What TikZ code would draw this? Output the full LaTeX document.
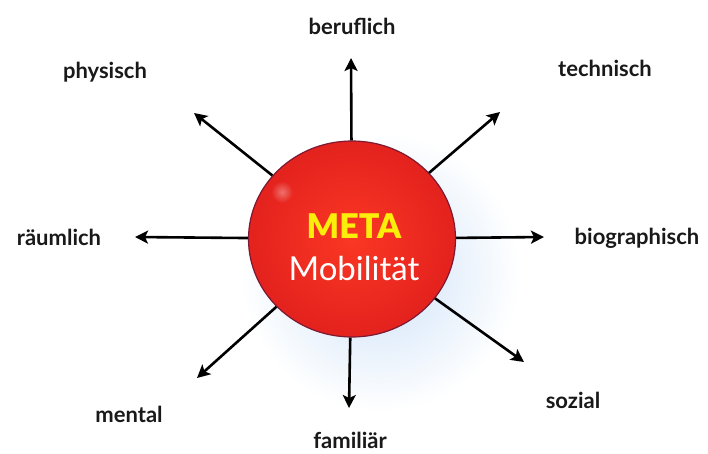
\documentclass[tikz,border=0pt]{standalone}
\usepackage{fontspec}
\setmainfont{Lato}
\usepackage{tikz}
\usetikzlibrary{arrows.meta}
\usetikzlibrary{shapes.geometric}
\definecolor{metared}{RGB}{250,55,35}
\definecolor{metadark}{RGB}{228,34,30}
\definecolor{metarim}{RGB}{125,25,50}
\definecolor{metayellow}{RGB}{250,238,10}
\definecolor{glowblue}{RGB}{205,225,248}
\tikzset{
  dimlabel/.style={font=\bfseries\fontsize{22}{24}\selectfont, text=black!90},
  dimarrow/.style={line width=2.6pt, -{Stealth[length=13pt,width=13pt,inset=3pt]}},
}

\begin{document}
\begin{tikzpicture}[x=1pt,y=-1pt]
\useasboundingbox (0,0) rectangle (708,454);
\fill[white] (0,0) rectangle (708,454);
\shade[inner color=glowblue, outer color=white] (380,272) circle (140);
\node[ellipse, minimum width=207pt, minimum height=196pt, inner sep=0pt,
  draw=metarim, line width=1.2pt, shading=radial, inner color=metared,
  outer color=metadark] (meta) at (352,239) {};
\shade[inner color=white, outer color=metadark, opacity=0.35] (282,192) circle (11);
\node[font=\fontsize{34}{36}\selectfont\fontspec{Lato Black}, text=metayellow] (metaword) at (354,226) {META};
\node[font=\fontsize{33}{36}\selectfont, text=white] (mobil) at (354,268) {Mobilität};
\coordinate (tU) at (351,58);
\coordinate (tUL) at (194,113);
\coordinate (tUR) at (500,112);
\coordinate (tL) at (135,237);
\coordinate (tR) at (544,237);
\coordinate (tDL) at (197,378);
\coordinate (tD) at (349,408);
\coordinate (tDR) at (524,362);
\node[dimlabel] (beruf) at (352,26) {beruflich};
\node[dimlabel] (phys) at (105,72) {physisch};
\node[dimlabel] (tech) at (605,68) {technisch};
\node[dimlabel] (raum) at (59,237) {räumlich};
\node[dimlabel] (bio) at (637,238) {biographisch};
\node[dimlabel] (ment) at (129,414) {mental};
\node[dimlabel] (soz) at (573,400) {sozial};
\node[dimlabel] (fam) at (350,440) {familiär};
\foreach \t in {tU,tUL,tUR,tL,tR,tDL,tD,tDR}
  \draw[dimarrow] (meta) -- (\t);
\end{tikzpicture}
\end{document}
